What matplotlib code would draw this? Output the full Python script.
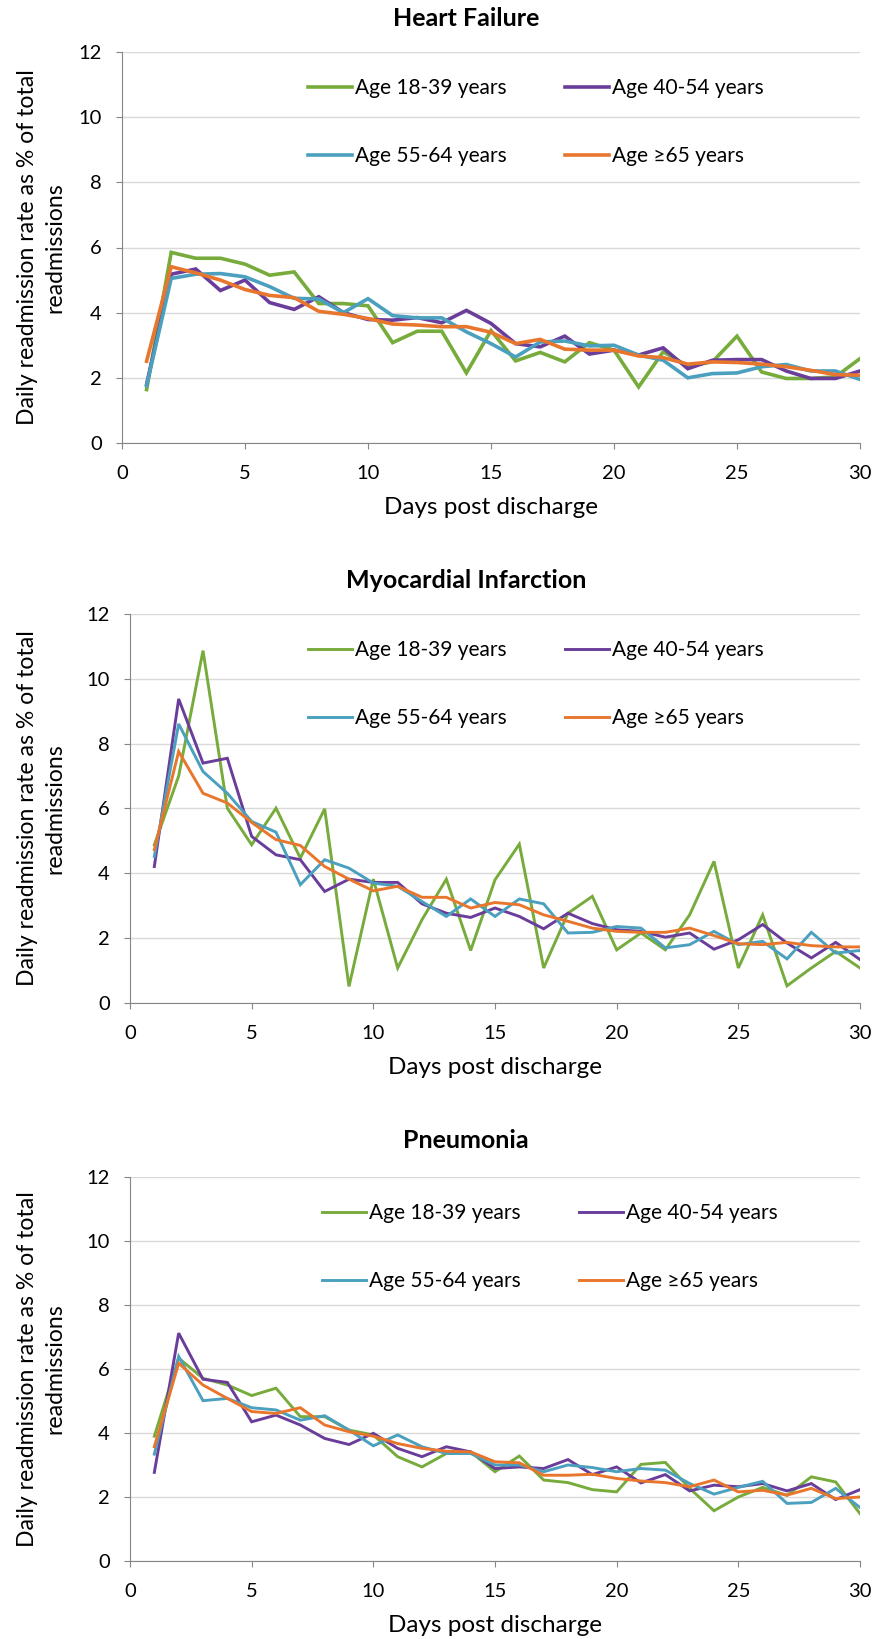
import numpy as np
import matplotlib.pyplot as plt

plt.rcParams['font.family'] = ['Lato', 'DejaVu Sans']

days = list(range(1, 31))
age_groups = ["Age 18-39 years", "Age 40-54 years", "Age 55-64 years", "Age \u226565 years"]
colors = ["#77AB3B", "#6A3D9A", "#4AA0BE", "#E8762D"]
panel_titles = ["Heart Failure", "Myocardial Infarction", "Pneumonia"]

# heart failure
hf_18_39 = [1.64, 5.85, 5.67, 5.67, 5.49, 5.15, 5.25, 4.28, 4.28, 4.21, 3.08, 3.43, 3.43, 2.15, 3.45,
            2.52, 2.78, 2.49, 3.08, 2.85, 1.72, 2.80, 2.36, 2.49, 3.28, 2.18, 1.98, 1.98, 2.03, 2.59]
hf_40_54 = [1.80, 5.18, 5.34, 4.68, 5.00, 4.31, 4.10, 4.49, 4.00, 3.79, 3.77, 3.85, 3.69, 4.07, 3.67,
            3.05, 2.95, 3.28, 2.73, 2.85, 2.70, 2.92, 2.28, 2.54, 2.56, 2.56, 2.21, 1.98, 1.98, 2.21]
hf_55_64 = [1.76, 5.05, 5.18, 5.20, 5.10, 4.80, 4.44, 4.42, 4.00, 4.43, 3.91, 3.84, 3.84, 3.41, 3.05,
            2.64, 3.10, 3.13, 2.98, 3.00, 2.70, 2.54, 2.00, 2.13, 2.15, 2.34, 2.41, 2.21, 2.21, 1.95]
hf_65 = [2.51, 5.41, 5.22, 5.00, 4.71, 4.53, 4.46, 4.04, 3.95, 3.82, 3.65, 3.62, 3.57, 3.57, 3.40,
         3.05, 3.18, 2.88, 2.85, 2.85, 2.67, 2.62, 2.42, 2.49, 2.47, 2.42, 2.34, 2.23, 2.10, 2.08]

# myocardial infarction
mi_18_39 = [4.88, 7.00, 10.87, 6.01, 4.88, 6.01, 4.47, 5.99, 0.51, 3.82, 1.08, 2.57, 3.82, 1.62, 3.80,
            4.90, 1.08, 2.77, 3.29, 1.64, 2.16, 1.64, 2.72, 4.37, 1.08, 2.72, 0.53, 1.08, 1.59, 1.08]
mi_40_54 = [4.21, 9.38, 7.40, 7.55, 5.14, 4.57, 4.42, 3.44, 3.82, 3.72, 3.72, 3.06, 2.77, 2.64, 2.93,
            2.67, 2.29, 2.77, 2.45, 2.26, 2.21, 2.03, 2.16, 1.66, 1.95, 2.42, 1.85, 1.39, 1.87, 1.34]
mi_55_64 = [4.52, 8.61, 7.14, 6.47, 5.60, 5.27, 3.65, 4.42, 4.16, 3.70, 3.60, 3.13, 2.67, 3.21, 2.67,
            3.21, 3.06, 2.16, 2.18, 2.36, 2.31, 1.70, 1.80, 2.21, 1.80, 1.90, 1.36, 2.18, 1.54, 1.62]
mi_65 = [4.73, 7.76, 6.47, 6.17, 5.57, 5.04, 4.86, 4.21, 3.82, 3.46, 3.60, 3.26, 3.26, 2.93, 3.10,
         3.03, 2.72, 2.52, 2.31, 2.21, 2.18, 2.18, 2.31, 2.08, 1.83, 1.80, 1.87, 1.77, 1.73, 1.73]

# pneumonia
pn_18_39 = [3.90, 6.34, 5.71, 5.50, 5.17, 5.40, 4.51, 4.51, 4.09, 3.94, 3.26, 2.94, 3.36, 3.41, 2.79,
            3.28, 2.53, 2.45, 2.23, 2.16, 3.02, 3.08, 2.27, 1.57, 2.00, 2.30, 2.05, 2.63, 2.47, 1.48]
pn_40_54 = [2.77, 7.12, 5.68, 5.58, 4.35, 4.56, 4.25, 3.83, 3.64, 3.99, 3.52, 3.26, 3.57, 3.41, 2.89,
            2.94, 2.89, 3.17, 2.70, 2.94, 2.44, 2.70, 2.19, 2.37, 2.32, 2.42, 2.19, 2.42, 1.92, 2.23]
pn_55_64 = [3.34, 6.39, 5.01, 5.08, 4.79, 4.72, 4.40, 4.54, 4.09, 3.60, 3.94, 3.57, 3.36, 3.36, 3.00,
            3.00, 2.79, 3.00, 2.92, 2.79, 2.89, 2.84, 2.42, 2.09, 2.30, 2.49, 1.80, 1.83, 2.27, 1.67]
pn_65 = [3.57, 6.18, 5.50, 5.08, 4.67, 4.61, 4.79, 4.25, 4.04, 3.90, 3.67, 3.52, 3.43, 3.41, 3.10,
         3.07, 2.68, 2.68, 2.71, 2.58, 2.50, 2.45, 2.32, 2.53, 2.16, 2.21, 2.06, 2.27, 1.95, 2.00]

panels = [
    [hf_18_39, hf_40_54, hf_55_64, hf_65],
    [mi_18_39, mi_40_54, mi_55_64, mi_65],
    [pn_18_39, pn_40_54, pn_55_64, pn_65],
]

W, H = 874, 1639
fig = plt.figure(figsize=(W / 100, H / 100), dpi=100)

# (left px, top px, bottom px, title y px, line width, legend x px)
layout = [
    (122, 52, 443, 19, 2.6, 300),
    (130, 614, 1003, 580, 2.1, 300),
    (130, 1177, 1561, 1140, 2.1, 314),
]

for series, title, (left, top, bot, ty, lw, lx) in zip(panels, panel_titles, layout):
    ax = fig.add_axes([left / W, 1 - bot / H, (860 - left) / W, (bot - top) / H])
    lines = []
    for vals, c, lab in zip(series, colors, age_groups):
        ln, = ax.plot(days, vals, color=c, lw=lw, label=lab, solid_joinstyle='miter')
        lines.append(ln)

    ax.set_xlim(0, 30)
    ax.set_ylim(0, 12)
    ax.set_xticks(np.arange(0, 31, 5))
    ax.set_yticks(np.arange(0, 13, 2))
    ax.grid(axis='y', color='#d9d9d9', lw=1)
    ax.set_axisbelow(True)
    for s in ['top', 'right']:
        ax.spines[s].set_visible(False)
    for s in ['left', 'bottom']:
        ax.spines[s].set_color('#868686')
    ax.tick_params(axis='both', colors='#868686', labelcolor='black', labelsize=14.5,
                   length=4.5, direction='out')
    ax.tick_params(axis='y', pad=10)
    ax.tick_params(axis='x', pad=11)

    ax.set_xlabel("Days post discharge", fontsize=17.5, labelpad=11)

    # y label drawn as figure text so both lines sit where the original has them
    fig.text(41 / W, 1 - (top + bot) / 2 / H,
             "Daily readmission rate as % of total\nreadmissions",
             rotation=90, ha='center', va='center', fontsize=16.6, linespacing=1.35)

    fig.text(466 / W, 1 - ty / H, title, ha='center', va='center', fontsize=18,
             fontweight='bold')

    # legend is filled column-wise, so reorder to get two rows of two
    order = [0, 2, 1, 3]
    ax.legend([lines[i] for i in order], [age_groups[i] for i in order], ncol=2,
              loc='upper left', bbox_to_anchor=(lx / W, 1 - (top + 18) / H),
              bbox_transform=fig.transFigure, frameon=False, fontsize=15,
              handlelength=2.1, handletextpad=0.15, columnspacing=2.8,
              labelspacing=2.3, borderaxespad=0)

fig.savefig("out.png", dpi=100)
